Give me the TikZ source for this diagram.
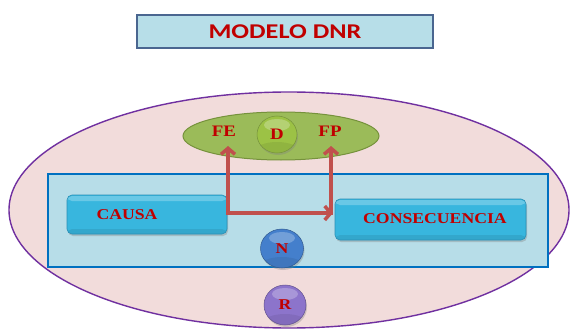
\documentclass[tikz,border=0pt]{standalone}
\usepackage{fontspec}
\newfontfamily\titlefont[FakeStretch=1.25]{Carlito}
\newfontfamily\labfont[FakeStretch=1.18]{Liberation Serif}
\usetikzlibrary{shapes.geometric,arrows.meta,shadows}
\definecolor{redtxt}{HTML}{C00000}
\definecolor{titlefill}{HTML}{B7DEE8}
\definecolor{titleline}{HTML}{4A6690}
\definecolor{pinkfill}{HTML}{F2DCDB}
\definecolor{purpleline}{HTML}{7030A0}
\definecolor{greenfill}{HTML}{9BBB59}
\definecolor{greenline}{HTML}{76923C}
\definecolor{bluefill}{HTML}{B7DDE8}
\definecolor{blueline}{HTML}{0070C0}
\definecolor{arrred}{HTML}{C0504D}
\definecolor{cyanbox}{HTML}{38B6DE}
\definecolor{cyanline}{HTML}{2B8FB5}
\definecolor{dgreen}{HTML}{9CC245}
\definecolor{nblue}{HTML}{447FCC}
\definecolor{rpurple}{HTML}{8C74CB}
\tikzset{
  lab/.style={font=\labfont\bfseries\fontsize{15}{16}\selectfont, text=redtxt, inner sep=1pt},
  shad/.style={drop shadow={opacity=0.35, shadow xshift=1pt, shadow yshift=-2pt}},
  gloss/.style={path picture={
     \fill[white, opacity=0.25] ([yshift=-1pt]path picture bounding box.north west) rectangle ([yshift=-6pt]path picture bounding box.north east);
     \fill[black, opacity=0.08] ([yshift=5pt]path picture bounding box.south west) rectangle (path picture bounding box.south east);}},
  cbox/.style={rectangle, rounded corners=5pt, draw=cyanline, line width=0.6pt,
    fill=cyanbox, gloss, shad, inner sep=0pt},
  ballgloss/.style={path picture={
     \fill[white, opacity=0.25] ([yshift=-9pt]path picture bounding box.north) ellipse (13pt and 6pt);
     \fill[black, opacity=0.07] ([yshift=2pt]path picture bounding box.south) ellipse (22pt and 9pt);}},
  ballnode/.style={ellipse, inner sep=0pt, shad, line width=0.5pt, ballgloss},
  arr/.style={draw=arrred, line width=3.5pt, line join=miter,
    arrows={Straight Barb[length=6pt,width=14pt]-Straight Barb[length=6pt,width=14pt]}},
  arrone/.style={draw=arrred, line width=3.5pt, -{Straight Barb[length=6pt,width=14pt]}}
}
\begin{document}
\begin{tikzpicture}[x=1pt,y=-1pt]
\useasboundingbox (0,0) rectangle (571,329);
\fill[white] (0,0) rectangle (571,329);
% title
\node[rectangle, draw=titleline, line width=1.8pt, fill=titlefill, minimum width=296pt, minimum height=33pt, inner sep=0pt] (title) at (285,31.5)
  {\titlefont\bfseries\fontsize{21}{23}\selectfont\color{redtxt}MODELO DNR};
% big ellipse R
\node[ellipse, draw=purpleline, line width=1.4pt, fill=pinkfill, minimum width=560pt, minimum height=236pt, inner sep=0pt] (big) at (289,210) {};
% blue rectangle N
\node[rectangle, draw=blueline, line width=1.6pt, fill=bluefill, minimum width=500pt, minimum height=93pt, inner sep=0pt] (nrect) at (298,220.5) {};
% green ellipse D
\node[ellipse, draw=greenline, line width=1pt, fill=greenfill, minimum width=196pt, minimum height=48pt, inner sep=0pt] (green) at (281,136) {};
% D ball
\node[ballnode, minimum width=40pt, minimum height=37pt, fill=dgreen, draw=greenline] (dball) at (277,134.5) {};
\node[lab, font=\labfont\bfseries\fontsize{16}{17}\selectfont] (dtxt) at (dball) {D};
\node[lab, font=\labfont\bfseries\fontsize{16}{17}\selectfont] (FE) at (224,131) {FE};
\node[lab, font=\labfont\bfseries\fontsize{16}{17}\selectfont] (FP) at (330,131) {FP};
% boxes
\node[cbox, minimum width=160pt, minimum height=39pt] (causa) at (147,214.5) {};
\node[lab] (causatxt) at (127,215) {CAUSA};
\node[cbox, minimum width=191pt, minimum height=41pt] (conse) at (430.5,219.5) {};
\node[lab] (consetxt) at (435,219) {CONSECUENCIA};
% N ball
\node[ballnode, minimum width=43pt, minimum height=39pt, fill=nblue, draw=nblue!70!black] (nball) at (282,248.5) {};
\node[lab] (ntxt) at (nball) {N};
% R ball
\node[ballnode, minimum width=42pt, minimum height=40pt, fill=rpurple, draw=rpurple!70!black] (rball) at (285,305) {};
\node[lab] (rtxt) at (rball) {R};
% arrows
\coordinate (j1) at (228,213);
\coordinate (j2) at (331,214.75);
\coordinate (feTip) at (228,146);
\coordinate (fpTip) at (331,146);
\coordinate (conseIn) at (333,213);
\draw[arr] (feTip) -- (j1) -- (conseIn);
\draw[arrone] (j2) -- (fpTip);
\end{tikzpicture}
\end{document}
